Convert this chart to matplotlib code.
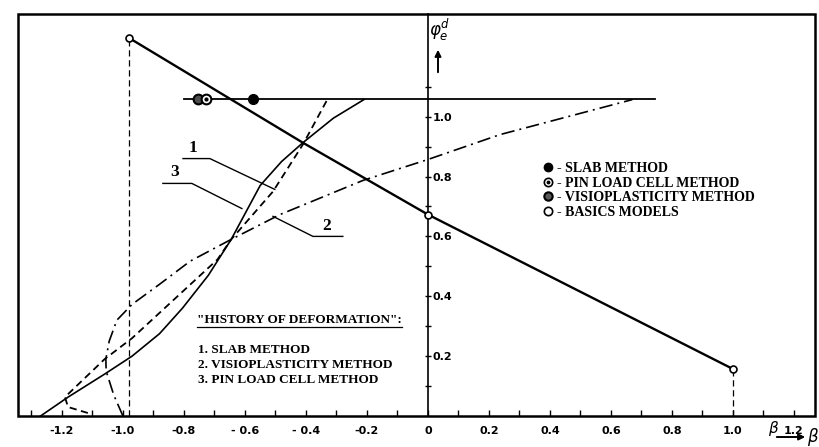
import numpy as np
import matplotlib.pyplot as plt
from matplotlib.lines import Line2D
from matplotlib.patches import Rectangle
from matplotlib.legend_handler import HandlerTuple

# ---- data (beta, phi_e^d) ----
basic_beta = [-0.98, -0.41, 0.0, 1.0]
basic_phi = [1.263, 0.913, 0.673, 0.157]
basic_marks = [0, 2, 3]

slab_beta = [-1.115, -1.18, -1.19, -1.18, -1.06, -0.97, -0.69, -0.645, -0.508, -0.41, -0.33]
slab_phi = [0.01, 0.03, 0.063, 0.073, 0.19, 0.26, 0.523, 0.59, 0.75, 0.907, 1.057]

visio_beta = [-1.0, -1.03, -1.055, -1.056, -1.045, -1.02, -0.97, -0.88, -0.78,
              -0.645, -0.485, -0.213, 0.0, 0.236, 0.67]
visio_phi = [0.0, 0.07, 0.15, 0.19, 0.25, 0.32, 0.373, 0.44, 0.517,
             0.59, 0.673, 0.787, 0.857, 0.94, 1.057]

pin_beta = [-1.27, -1.18, -1.06, -0.97, -0.88, -0.805, -0.72, -0.645, -0.55,
            -0.48, -0.41, -0.31, -0.21]
pin_phi = [0.0, 0.063, 0.14, 0.2, 0.275, 0.36, 0.47, 0.59, 0.77,
           0.85, 0.913, 0.995, 1.057]

level_phi = 1.06
level_beta = [-0.80, 0.745]
slab_pt = -0.574
pin_pt = -0.728
visio_pt = -0.754

xticks_major = [-1.2, -1.0, -0.8, -0.6, -0.4, -0.2, 0.0, 0.2, 0.4, 0.6, 0.8, 1.0, 1.2]
xtick_labels = ['-1.2', '-1.0', '-0.8', '- 0.6', '- 0.4', '-0.2', '0',
                '0.2', '0.4', '0.6', '0.8', '1.0', '1.2']
yticks_minor = [0.1, 0.3, 0.5, 0.7, 0.9, 1.1]
yticks_major = [0.2, 0.4, 0.6, 0.8, 1.0]

serif = {'family': 'Liberation Serif', 'weight': 'bold', 'size': 9.5}
num = {'family': 'Liberation Serif', 'weight': 'bold', 'size': 12.5}

fig = plt.figure(figsize=(8.2, 4.47), dpi=100)
ax = fig.add_axes([18 / 820, 31 / 447, 797 / 820, 402 / 447])
ax.set_xlim(-1.344, 1.269)
ax.set_ylim(0.0, 1.343)

# frame
for s in ['left', 'top', 'bottom']:
    ax.spines[s].set_visible(False)
ax.add_patch(Rectangle((0, 0), 1, 1, transform=ax.transAxes, fill=False,
                       lw=1.8, ec='k', zorder=5, clip_on=False))

# central phi axis: right spine moved to beta = 0
ax.spines['right'].set_position(('data', 0))
ax.spines['right'].set_linewidth(1.2)
ax.yaxis.set_ticks_position('right')
ax.set_yticks(yticks_major)
ax.set_yticklabels(['%.1f' % v for v in yticks_major])
ax.set_yticks(yticks_minor, minor=True)
ax.tick_params(axis='y', which='both', direction='inout', length=5, width=1,
               labelsize=8, pad=1)

ax.set_xticks(xticks_major)
ax.set_xticklabels(xtick_labels)
ax.set_xticks(np.arange(-1.3, 1.25, 0.1), minor=True)
ax.tick_params(axis='x', which='both', direction='in', length=4, width=1,
               labelsize=8, pad=7)
for t in ax.get_xticklabels() + ax.get_yticklabels():
    t.set_fontweight('bold')
    t.set_family('DejaVu Sans Condensed')

# curves
ax.plot(basic_beta, basic_phi, color='k', lw=1.7, marker='o', mfc='white',
        mec='k', ms=5, mew=1.2, markevery=basic_marks, zorder=4)
ax.plot([basic_beta[0]] * 2, [0, basic_phi[0]], color='k', lw=0.9, ls=(0, (5, 3)))
ax.plot([basic_beta[-1]] * 2, [0, basic_phi[-1]], color='k', lw=0.9, ls=(0, (5, 3)))

ax.plot(slab_beta, slab_phi, color='k', lw=1.3, ls=(0, (4, 2.5)))
ax.plot(visio_beta, visio_phi, color='k', lw=1.2, ls=(0, (8, 3, 1.2, 3)))
ax.plot(pin_beta, pin_phi, color='k', lw=1.2)

ax.plot(level_beta, [level_phi] * 2, color='k', lw=1.3)
ax.plot([visio_pt], [level_phi], 'o', color='k', mfc='0.3', mew=1.5, ms=7, zorder=6)
ax.plot([pin_pt], [level_phi], 'o', mfc='white', mec='k', mew=1.5, ms=7, zorder=6)
ax.plot([pin_pt], [level_phi], 'o', color='k', ms=2, zorder=7)
ax.plot([slab_pt], [level_phi], 'o', color='k', ms=7, zorder=6)

# leaders for curve numbers
ax.plot([-0.803, -0.715, -0.502], [0.86, 0.86, 0.757], color='k', lw=1)
ax.text(-0.77, 0.87, '1', ha='center', va='bottom', **num)
ax.plot([-0.869, -0.774, -0.61], [0.777, 0.777, 0.693], color='k', lw=1)
ax.text(-0.83, 0.787, '3', ha='center', va='bottom', **num)
ax.plot([-0.508, -0.377, -0.279], [0.667, 0.6, 0.6], color='k', lw=1)
ax.text(-0.331, 0.607, '2', ha='center', va='bottom', **num)

# legend of markers
h_slab = Line2D([], [], marker='o', color='k', ls='none', ms=6)
h_pin = (Line2D([], [], marker='o', mfc='white', mec='k', mew=1.2, ls='none', ms=6),
         Line2D([], [], marker='o', color='k', ls='none', ms=1.8))
h_visio = Line2D([], [], marker='o', color='k', mfc='0.35', mew=1.5, ls='none', ms=6)
h_basic = Line2D([], [], marker='o', mfc='white', mec='k', mew=1.2, ls='none', ms=6)
ax.legend([h_slab, h_pin, h_visio, h_basic],
          ['- SLAB METHOD', '- PIN LOAD CELL METHOD', '- VISIOPLASTICITY METHOD',
           '- BASICS MODELS'],
          handler_map={tuple: HandlerTuple(ndivide=1, pad=0)},
          loc='upper left', bbox_to_anchor=(0.66, 0.632), frameon=False,
          handlelength=0.6, handletextpad=0.3, labelspacing=0.12,
          borderpad=0, borderaxespad=0,
          prop={'family': 'Liberation Serif', 'weight': 'bold', 'size': 10})

# history of deformation block
title = ax.text(0.225, 0.24, '"HISTORY OF DEFORMATION":', transform=ax.transAxes,
                ha='left', va='center', **serif)
hist = ['1. SLAB METHOD', '2. VISIOPLASTICITY METHOD', '3. PIN LOAD CELL METHOD']
for i, s in enumerate(hist):
    ax.text(0.226, 0.164 - i * 0.0375, s, transform=ax.transAxes,
            ha='left', va='center', **serif)

# axis labels with arrows
fig.text(440, 417, r'$\varphi_e^d$', fontsize=12, ha='center', va='center',
         transform=None)
ax.annotate('', xy=(438, 400), xytext=(438, 372), xycoords='figure pixels',
            textcoords='figure pixels',
            arrowprops=dict(arrowstyle='-|>', color='k', lw=1.4, mutation_scale=9))
ax.annotate('', xy=(808, 10), xytext=(774, 10), xycoords='figure pixels',
            textcoords='figure pixels',
            arrowprops=dict(arrowstyle='-|>', color='k', lw=1.4, mutation_scale=9))
fig.text(813, 10, r'$\beta$', fontsize=12, ha='center', va='center', transform=None)
fig.text(774, 18, r'$\beta$', fontsize=11, ha='center', va='center', transform=None)

# underline the title
fig.canvas.draw()
bb = title.get_window_extent()
fig.add_artist(Line2D([bb.x0 / 820, bb.x1 / 820], [(bb.y0 - 1) / 447] * 2,
                      color='k', lw=0.9, transform=fig.transFigure))

fig.savefig('out.png', dpi=100)
